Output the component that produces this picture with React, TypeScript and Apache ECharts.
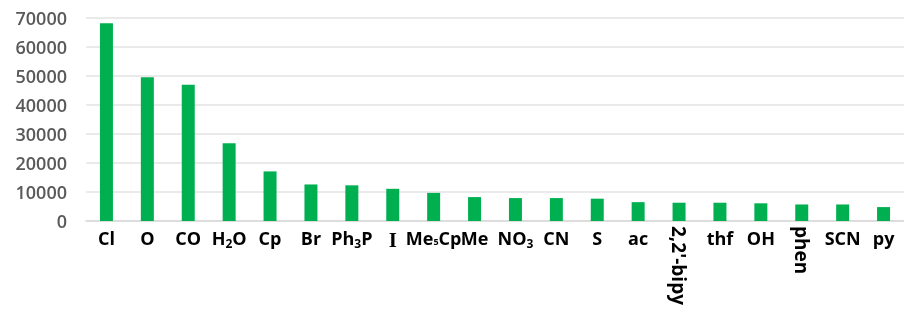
import React, { useEffect, useRef } from "react";
import * as echarts from "echarts";

const categories = ["Cl", "O", "CO", "H2O", "Cp", "Br", "Ph3P", "I", "Me5Cp", "Me", "NO3", "CN", "S", "ac", "2,2'-bipy", "thf", "OH", "phen", "SCN", "py"];
const values = [68200, 49600, 47000, 26800, 17100, 12600, 12300, 11100, 9700, 8250, 7900, 7900, 7700, 6500, 6300, 6300, 6100, 5700, 5700, 4800];
const rotatedLabels = ["2,2'-bipy", "phen"];
const yMax = 70000;
const yStep = 10000;

function fmtMain(v: string): string {
  if (rotatedLabels.includes(v)) return "";
  if (v === "I") return "{serif|I}";
  if (!/[A-Za-z]\d/.test(v)) return "{m|" + v + "}";
  const parts = v.split(/(\d)/).filter((p) => p !== "");
  return parts.map((p) => (/^\d$/.test(p) ? (v === "Me5Cp" ? "{sub2|" + p + "}" : "{sub|" + p + "}") : "{m|" + p + "}")).join("");
}

export default function App() {
  const ref = useRef<HTMLDivElement>(null);
  useEffect(() => {
    const chart = echarts.init(ref.current!, undefined, { renderer: "svg" });
    const labelFont = "'Open Sans', 'Liberation Sans', sans-serif";
    chart.setOption({
      animation: false,
      grid: { left: 86, top: 18, width: 820, bottom: 91, containLabel: false },
      xAxis: [
        {
          type: "category",
          data: categories,
          position: "bottom",
          axisLine: { show: true, lineStyle: { color: "#d9d9d9", width: 1.5 } },
          axisTick: { show: false },
          axisLabel: {
            interval: 0,
            margin: 8,
            color: "#000",
            fontFamily: labelFont,
            fontWeight: "bold",
            fontSize: 18,
            formatter: fmtMain,
            rich: {
              m: { fontSize: 18, fontWeight: "bold", fontFamily: labelFont, color: "#000", lineHeight: 20, verticalAlign: "top" },
              sub: { fontSize: 12, fontWeight: "bold", fontFamily: labelFont, color: "#000", lineHeight: 20, padding: [8, 0, 0, 0], verticalAlign: "top" },
              sub2: { fontSize: 9, fontWeight: "bold", fontFamily: labelFont, color: "#000", lineHeight: 20, padding: [8, 0, 0, 0], verticalAlign: "top" },
              serif: { fontSize: 21, fontWeight: "bold", fontFamily: "'Liberation Serif', serif", color: "#000", lineHeight: 20, verticalAlign: "top" },
            },
          },
        },
        {
          type: "category",
          data: categories,
          position: "bottom",
          axisLine: { show: false },
          axisTick: { show: false },
          axisLabel: {
            interval: 0,
            margin: 5,
            rotate: -90,
            color: "#000",
            fontFamily: labelFont,
            fontWeight: "bold",
            fontSize: 19,
            formatter: (v: string) => (rotatedLabels.includes(v) ? v : ""),
          },
        },
      ],
      yAxis: {
        type: "value",
        min: 0,
        max: yMax,
        interval: yStep,
        axisLine: { show: false },
        axisTick: { show: false },
        splitLine: { lineStyle: { color: "#e3e3e3", width: 1.5 } },
        axisLabel: {
          margin: 19,
          color: "#595959",
          fontFamily: labelFont,
          fontWeight: 600,
          fontSize: 18,
          formatter: (v: number) => String(v),
        },
      },
      series: [
        {
          type: "bar",
          xAxisIndex: 0,
          data: values,
          barWidth: 13,
          itemStyle: { color: "#00b050" },
        },
      ],
    });
    return () => chart.dispose();
  }, []);
  return <div ref={ref} style={{ position: "fixed", left: 0, top: 0, width: 904, height: 312 }} />;
}
